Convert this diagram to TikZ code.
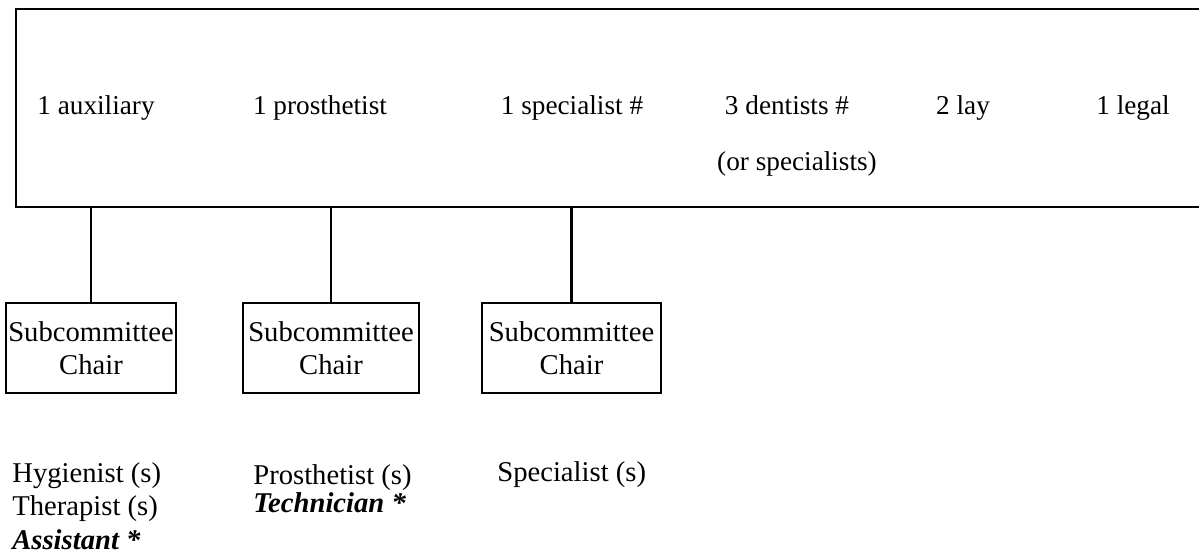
\documentclass[tikz,border=0pt]{standalone}
\usepackage{fontspec}
\setmainfont{Liberation Serif}
\usetikzlibrary{positioning}

\tikzset{
  boxline/.style={line width=1.4pt},
  txt/.style={font=\fontsize{15.5}{18.8}\selectfont, inner sep=0pt},
  bigtxt/.style={font=\fontsize{16.3}{18.8}\selectfont, inner sep=0pt},
  board/.style={boxline, draw, minimum width=24.28cm, minimum height=3.96cm, inner sep=0pt},
  chairbox/.style={boxline, draw, bigtxt, align=center, minimum height=1.8cm},
  staff/.style={bigtxt, align=left, anchor=base west},
}

\begin{document}
\begin{tikzpicture}[x=0.02cm, y=-0.02cm]
			%%%%% START %%%%%
			\useasboundingbox (0, 0) rectangle (1199, 553);
			\clip (0, 0) rectangle (1199, 553);
			
			% the committee
			\node[board] (committee) at (623, 108) {};
			\node[txt, anchor=base] (aux) at (96, 115) {1 auxiliary};
			\node[txt, anchor=base] (pros) at (320, 115) {1 prosthetist};
			\node[txt, anchor=base] (spec) at (572, 115) {1 specialist \#};
			\node[txt, anchor=base] (dent) at (787, 115) {3 dentists \#};
			\node[txt, anchor=base] (lay) at (963, 115) {2 lay};
			\node[txt, anchor=base] (legal) at (1133, 115) {1 legal};
			\node[txt, anchor=base] (orspec) at (797, 171) {(or specialists)};
			
			% subcommittees
			\node[chairbox, minimum width=3.4cm] (chairA) at (91, 348) {Subcommittee\\Chair};
			\node[chairbox, minimum width=3.52cm] (chairB) at (331, 348) {Subcommittee\\Chair};
			\node[chairbox, minimum width=3.58cm] (chairC) at (571.5, 348) {Subcommittee\\Chair};
			
			\draw[boxline] (chairA.north |- committee.south) -- (chairA.north);
			\draw[boxline] (chairB.north |- committee.south) -- (chairB.north);
			\draw[boxline] (chairC.north |- committee.south) -- (chairC.north);
			
			% members under each chair (base = last line)
			\node[staff] (staffA) at (12, 549) {Hygienist (s)\\Therapist (s)\\\textbf{\textit{Assistant *}}};
			\node[staff, font=\fontsize{16.3}{15.4}\selectfont] (staffB) at (253, 512) {Prosthetist (s)\\\textbf{\textit{Technician *}}};
			\node[staff] (staffC) at (497, 481) {Specialist (s)};
			%%%%% END %%%%%
\end{tikzpicture}
\end{document}
